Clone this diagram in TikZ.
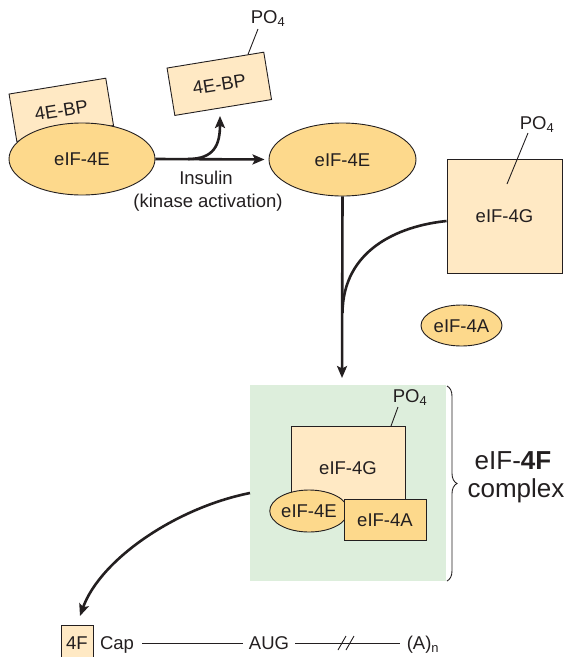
\documentclass[tikz,border=0pt]{standalone}
\usepackage{fontspec}
\setmainfont{Liberation Sans}
\usetikzlibrary{shapes.geometric,arrows.meta,calc,decorations.pathreplacing}
\definecolor{orng}{HTML}{FDD98C}
\definecolor{lite}{HTML}{FFE9C4}
\definecolor{grn}{HTML}{DDEEDC}
\definecolor{ink}{HTML}{231F20}
\begin{document}
\begin{tikzpicture}[x=1pt,y=-1pt,
  txt/.style={font=\fontsize{18.5}{22}\selectfont, text=ink, text height=13.3pt, text depth=0pt, inner sep=0pt},
  btxt/.style={font=\fontsize{18.5}{22}\selectfont, text=ink, inner sep=0pt, anchor=base},
  big/.style={font=\fontsize{26}{26}\selectfont, text=ink, inner sep=0pt, anchor=base},
  oval/.style={txt, ellipse, draw=ink, line width=0.9pt, fill=orng},
  lbox/.style={txt, rectangle, draw=ink, line width=0.9pt, fill=lite},
  obox/.style={txt, rectangle, draw=ink, line width=0.9pt, fill=orng},
  thin/.style={draw=ink, line width=0.9pt},
  arr/.style={draw=ink, line width=2.6pt, -{Stealth[length=12pt,width=10pt,inset=2.5pt]}},
  conn/.style={draw=ink, line width=2.6pt},
  po/.style={txt, inner sep=0pt}
]
\useasboundingbox (0,0) rectangle (565,657);

% top left complex
\node[lbox, minimum width=98pt, minimum height=48pt, rotate=9.3] (bp1) at (61.3,109.8) {4E-BP};
\node[oval, minimum width=146pt, minimum height=72pt] (e1) at (82,159) {eIF-4E};

% released 4E-BP
\node[lbox, minimum width=98pt, minimum height=48pt, rotate=9.3] (bp2) at (219.3,83.8) {4E-BP};
\node[po] (po1) at (268,17) {PO\textsubscript{4}};
\coordinate (p1a) at ($(bp2.north west)!0.835!(bp2.north east)$);
\coordinate (p1b) at (258,29);
\draw[thin] (p1a) -- (p1b);

% free eIF-4E
\node[oval, minimum width=147pt, minimum height=73pt] (e2) at (342.5,159.5) {eIF-4E};

% insulin arrow
\draw[arr, shorten >=4pt] (e1.east) -- (e2.west);
\coordinate (br) at (188,159);
\coordinate (brt) at (220,116);
\draw[arr] (br) .. controls (214,159) and (220,145) .. (brt);
\node[btxt] (ins1) at (206,184) {Insulin};
\node[btxt] (ins2) at (208,207) {(kinase activation)};

% eIF-4G
\node[lbox, minimum width=115pt, minimum height=114pt] (g1) at (504.5,216) {eIF-4G};
\node[po] (po2) at (537,123) {PO\textsubscript{4}};
\coordinate (p2a) at (507,184);
\coordinate (p2b) at (528,133);
\draw[thin] (p2a) -- (p2b);

% eIF-4A free
\node[oval, minimum width=81pt, minimum height=41pt] (a1) at (461.5,325.5) {eIF-4A};

% complex
\node[rectangle, fill=grn, minimum width=196pt, minimum height=196pt, inner sep=0pt] (cx) at (348,483) {};
\node[lbox, minimum width=114pt, minimum height=84pt] (g2) at (348,468) {eIF-4G};
\node[po] (po3) at (410,396) {PO\textsubscript{4}};
\coordinate (p3a) at (391,426);
\coordinate (p3b) at (398,407);
\draw[thin] (p3a) -- (p3b);
\node[oval, minimum width=75pt, minimum height=42pt] (e3) at (309,511) {eIF-4E};
\node[obox, minimum width=82pt, minimum height=41pt] (a2) at (385,519.5) {eIF-4A};

% main vertical arrow with merging curve
\coordinate (cxt) at (342,385);
\draw[arr, shorten >=7pt] (e2.south) -- (cxt);
\coordinate (mrg) at (342.5,313);
\draw[conn] ([yshift=-5pt]g1.west) .. controls (398,226) and (343,250) .. (mrg);

% brace
\coordinate (brA) at (447,386);
\coordinate (brB) at (447,581);
\draw[thin, decorate, decoration={brace, amplitude=10pt}] (brA) -- (brB);
\node[big] (lab1) at (513,469) {eIF-\textbf{4F}};
\node[big] (lab2) at (516,497) {complex};

% mRNA
\node[lbox, minimum width=32pt, minimum height=36pt] (f4) at (77,643) {4F};
\node[txt, inner xsep=8pt] (cap) at (117,643) {Cap};
\node[txt, inner xsep=6pt] (aug) at (269,643) {AUG};
\node[txt, inner xsep=7pt] (an) at (423,643) {(A)\textsubscript{n}};
\draw[thin] (cap.east) -- (aug.west);
\draw[thin] (aug.east) -- (an.west);
\coordinate (s1a) at (338,650); \coordinate (s1b) at (346,636);
\coordinate (s2a) at (346,650); \coordinate (s2b) at (354,636);
\draw[thin] (s1a) -- (s1b);
\draw[thin] (s2a) -- (s2b);

% arrow to cap
\coordinate (cxl) at (250,493);
\coordinate (f4t) at (80,616);
\draw[arr] (cxl) .. controls (175,508) and (100,560) .. (f4t);
\end{tikzpicture}
\end{document}
